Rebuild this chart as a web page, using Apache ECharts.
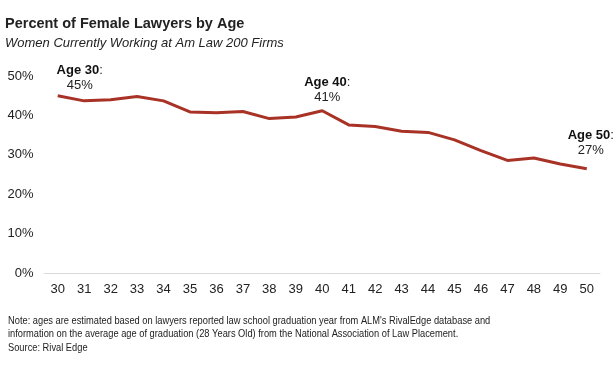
<!DOCTYPE html>
<html><head><meta charset="utf-8">
<script src="https://cdn.jsdelivr.net/npm/echarts@6/dist/echarts.min.js"></script>
<style>html,body{margin:0;padding:0;background:#fff}#c{width:616px;height:372px}</style>
</head><body><div id="c"></div>
<script>
const ages = ['30','31','32','33','34','35','36','37','38','39','40','41','42','43','44','45','46','47','48','49','50'];
const pctFemale = [45.0,43.7,44.0,44.8,43.7,40.9,40.7,41.0,39.2,39.6,41.2,37.6,37.2,36.0,35.7,33.8,31.1,28.6,29.2,27.7,26.5];
const yTicks = [0,10,20,30,40,50];
const callouts = {'30':'45%','40':'41%','50':'27%'};
const titleText = 'Percent of Female Lawyers by Age';
const subtitleText = 'Women Currently Working at Am Law 200 Firms';
const noteLines = [
  "Note: ages are estimated based on lawyers reported law school graduation year from ALM's RivalEdge database and",
  "information on the average age of graduation (28 Years Old) from the National Association of Law Placement.",
  "Source: Rival Edge"
];
const FF = 'Liberation Sans, Arial, sans-serif';
const calloutOffsets = {'30':[22,2],'40':[5,-1],'50':[4,-6]};
const seriesData = pctFemale.map((v,i)=>{
  const a = ages[i];
  if (callouts[a]) {
    return {value:v, label:{show:true, position:'top', offset:calloutOffsets[a],
      formatter:'{b|Age '+a+'}{n|:}\n{n|'+callouts[a]+'}',
      rich:{b:{fontWeight:'bold',fontSize:13,color:'#111',fontFamily:FF,lineHeight:15},
            n:{fontSize:13,color:'#222',fontFamily:FF,lineHeight:15}}}};
  }
  return v;
});
const chart = echarts.init(document.getElementById('c'));
chart.setOption({
  animation:false,
  backgroundColor:'#fff',
  title:[
    {text:titleText, left:5, top:16, padding:0, textStyle:{fontFamily:FF,fontSize:14.5,fontWeight:'bold',color:'#222'}},
    {text:subtitleText, left:5, top:37, padding:0, textStyle:{fontFamily:FF,fontSize:13,fontStyle:'italic',fontWeight:'normal',color:'#222'}}
  ],
  grid:{left:44.5, right:16, top:76, bottom:98.7},
  xAxis:{type:'category', data:ages, boundaryGap:true,
    axisLine:{lineStyle:{color:'#d9d9d9',width:1}}, axisTick:{show:false},
    axisLabel:{color:'#222',fontSize:13,fontFamily:FF,margin:10}},
  yAxis:{type:'value', min:0, max:50, interval:10,
    axisLine:{show:false}, axisTick:{show:false}, splitLine:{show:false},
    axisLabel:{color:'#222',fontSize:13,fontFamily:FF,margin:11,formatter:v=>v+'%'}},
  series:[{type:'line', data:seriesData, symbol:'circle', symbolSize:0, showSymbol:true, smooth:false,
    lineStyle:{color:'#a93226',width:3}, itemStyle:{color:'#a93226'}}],
  graphic: noteLines.map((t,i)=>({
    type:'text', x:8, y:320.5 + i*13.5, scaleX:0.845,
    style:{text:t, fill:'#222', font:'11px '+FF, verticalAlign:'middle'}}))
});
</script></body></html>
